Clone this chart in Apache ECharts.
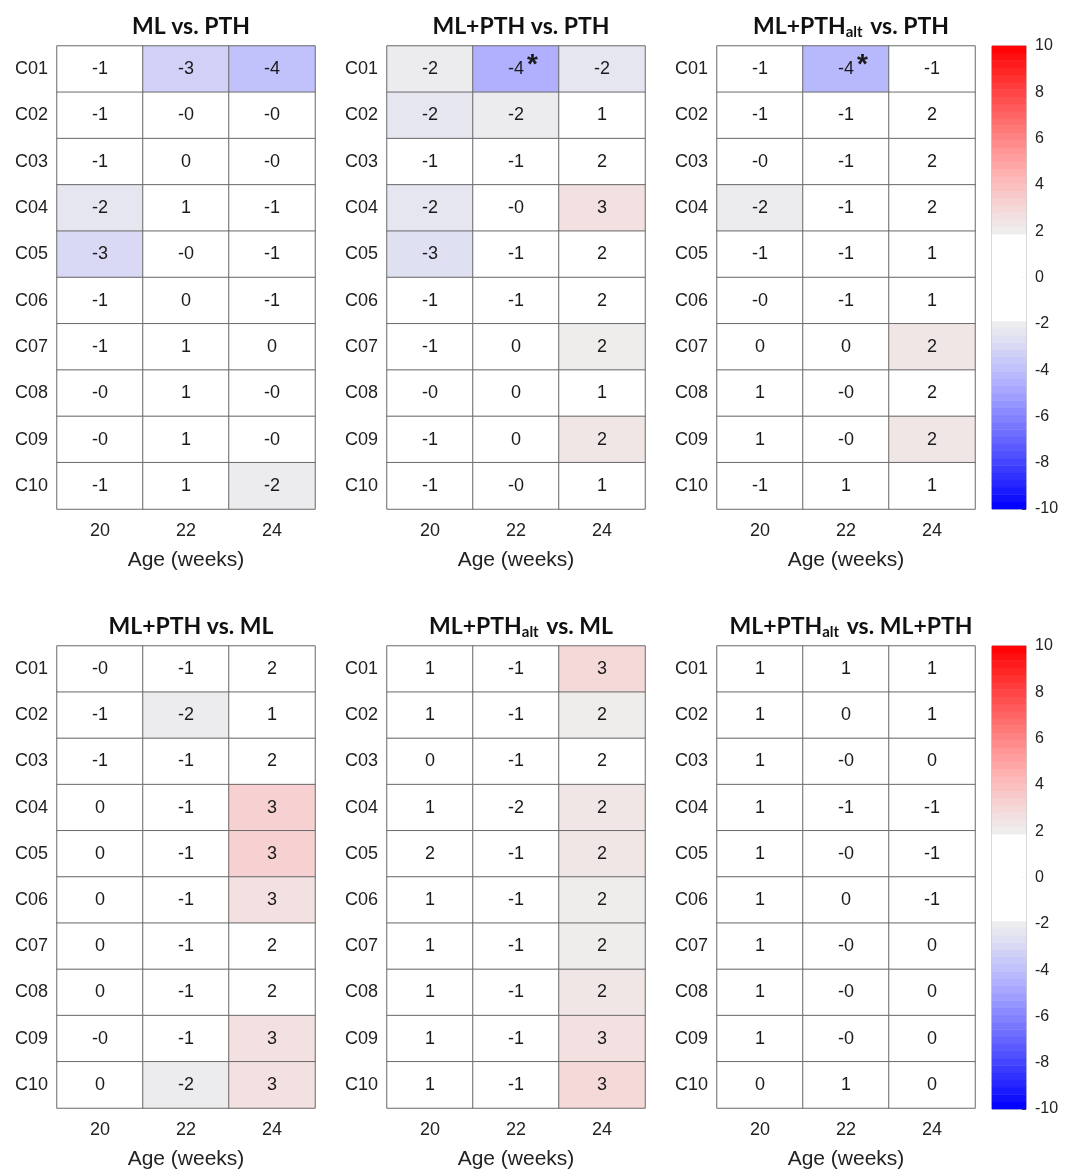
<!DOCTYPE html>
<html>
<head>
<meta charset="utf-8">
<script src="https://cdn.jsdelivr.net/npm/echarts@6/dist/echarts.min.js"></script>
<style>
html,body{margin:0;padding:0;background:#fff;}
#chart{width:1073px;height:1171px;}
</style>
</head>
<body>
<div id="chart"></div>
<script>
// ---------- data ----------
const ages = ['20', '22', '24'];
const clusters = ['C01','C02','C03','C04','C05','C06','C07','C08','C09','C10'];
const colorbarTicks = [-10, -8, -6, -4, -2, 0, 2, 4, 6, 8, 10];

// rows = clusters C01..C10, columns = ages 20, 22, 24
const mlVsPth = [
  [-1.0, -3.3, -3.9],
  [-0.8, -0.3, -0.2],
  [-0.7,  0.2, -0.3],
  [-2.4,  0.8, -0.6],
  [-3.1, -0.3, -0.7],
  [-0.9,  0.3, -0.7],
  [-0.8,  0.7,  0.2],
  [-0.4,  0.6, -0.2],
  [-0.3,  0.8, -0.4],
  [-0.8,  0.7, -2.0]
];
const mlPthVsPth = [
  [-2.0, -4.45, -2.2],
  [-2.2, -1.9,  1.0],
  [-0.8, -0.9,  1.6],
  [-2.4, -0.3,  2.7],
  [-2.8, -0.8,  1.7],
  [-0.9, -0.8,  1.6],
  [-0.8,  0.3,  2.0],
  [-0.3,  0.2,  1.0],
  [-0.8,  0.3,  2.2],
  [-0.8, -0.2,  1.1]
];
const mlPthAltVsPth = [
  [-1.0, -4.35, -0.8],
  [-0.9, -0.8,  1.6],
  [-0.3, -0.9,  1.7],
  [-2.0, -0.8,  1.6],
  [-0.9, -0.8,  1.0],
  [-0.3, -0.8,  0.9],
  [ 0.3,  0.2,  2.2],
  [ 0.7, -0.3,  1.7],
  [ 0.8, -0.3,  2.2],
  [-0.7,  0.6,  1.0]
];
const mlPthVsMl = [
  [-0.3, -0.8,  1.6],
  [-0.8, -2.0,  1.0],
  [-0.8, -0.9,  1.7],
  [ 0.3, -0.8,  3.4],
  [ 0.3, -0.9,  3.2],
  [ 0.2, -0.8,  2.8],
  [ 0.3, -0.8,  1.7],
  [ 0.3, -0.9,  1.7],
  [-0.2, -0.8,  2.6],
  [ 0.2, -2.0,  2.7]
];
const mlPthAltVsMl = [
  [ 0.8, -0.8,  2.9],
  [ 0.8, -0.8,  2.0],
  [ 0.3, -0.9,  1.7],
  [ 0.8, -1.6,  2.3],
  [ 1.6, -0.9,  2.3],
  [ 0.8, -0.8,  2.0],
  [ 0.8, -0.8,  2.0],
  [ 0.8, -0.9,  2.4],
  [ 0.8, -0.9,  2.8],
  [ 0.8, -0.8,  3.1]
];
const mlPthAltVsMlPth = [
  [ 0.8,  0.7,  0.8],
  [ 0.8,  0.3,  0.7],
  [ 0.8, -0.3,  0.2],
  [ 0.8, -0.7, -0.8],
  [ 0.8, -0.3, -0.7],
  [ 0.8,  0.2, -0.8],
  [ 0.8, -0.2,  0.3],
  [ 0.8, -0.3,  0.2],
  [ 0.8, -0.3,  0.3],
  [ 0.3,  0.6,  0.3]
];
// significance marks [row, col]
const sigMlPthVsPth = [[0, 1]];
const sigMlPthAltVsPth = [[0, 1]];
const sigNone = [];

const panels = [
  {title: '{b|ML vs. PTH}', values: mlVsPth, sig: sigNone},
  {title: '{b|ML+PTH vs. PTH}', values: mlPthVsPth, sig: sigMlPthVsPth},
  {title: '{b|ML+PTH}{sub|alt}{b| vs. PTH}', values: mlPthAltVsPth, sig: sigMlPthAltVsPth},
  {title: '{b|ML+PTH vs. ML}', values: mlPthVsMl, sig: sigNone},
  {title: '{b|ML+PTH}{sub|alt}{b| vs. ML}', values: mlPthAltVsMl, sig: sigNone},
  {title: '{b|ML+PTH}{sub|alt}{b| vs. ML+PTH}', values: mlPthAltVsMlPth, sig: sigNone}
];

// ---------- colormap (style) ----------
const NB = 64, VMIN = -10, VMAX = 10, STEP = (VMAX - VMIN) / NB;
function cmap(v) {
  const a = Math.abs(v);
  if (a < 1.75) return '#ffffff';
  const t = Math.max(0, Math.min(1, (a - 1.875) / (10 - 1.875)));
  const g = Math.round(238 * (1 - Math.pow(t, 1.2)));
  const hi = Math.round(238 + 17 * Math.min(1, t * 3));
  return v > 0 ? `rgb(${hi},${g},${g})` : `rgb(${g},${g},${hi})`;
}
const pieces = [];
for (let i = 0; i < NB; i++) {
  const lo = VMIN + i * STEP, hi = lo + STEP;
  const p = {gte: lo, color: cmap(lo + STEP / 2)};
  if (i === NB - 1) p.lte = hi; else p.lt = hi;
  pieces.push(p);
}
const binCats = [], binData = [];
for (let i = 0; i < NB; i++) {
  binCats.push(String(i));
  binData.push([0, i, VMIN + (i + 0.5) * STEP]);
}

// ---------- layout ----------
const FONT = '"Liberation Sans", Arial, sans-serif';
const TFONT = 'Lato, "Open Sans", sans-serif';
const gridLefts = [57, 387, 717];
const gridTops = [46, 646];
const GW = 258, GH = 463;

const grids = [], xAxes = [], yAxes = [], series = [], titles = [];
panels.forEach((p, k) => {
  const col = k % 3, row = Math.floor(k / 3);
  grids.push({left: gridLefts[col], top: gridTops[row], width: GW, height: GH});
  xAxes.push({
    type: 'category', gridIndex: k, data: ages, position: 'bottom',
    axisLine: {show: false}, axisTick: {show: false}, splitLine: {show: false},
    axisLabel: {fontFamily: FONT, fontSize: 18, color: '#222', margin: 13},
    name: 'Age (weeks)', nameLocation: 'middle', nameGap: 41,
    nameTextStyle: {fontFamily: FONT, fontSize: 21, color: '#222'}
  });
  yAxes.push({
    type: 'category', gridIndex: k, data: clusters, inverse: true,
    axisLine: {show: false}, axisTick: {show: false}, splitLine: {show: false},
    axisLabel: {fontFamily: FONT, fontSize: 18, color: '#222', margin: 9}
  });
  const sigSet = new Set(p.sig.map(s => s[0] + '_' + s[1]));
  const data = [];
  p.values.forEach((rowVals, r) => rowVals.forEach((v, c) => {
    data.push([c, r, v, sigSet.has(r + '_' + c) ? 1 : 0]);
  }));
  series.push({
    type: 'heatmap', xAxisIndex: k, yAxisIndex: k, data: data,
    itemStyle: {borderColor: '#6a6a6a', borderWidth: 1},
    emphasis: {disabled: true},
    label: {
      show: true,
      formatter: (prm) => {
        const txt = prm.value[2].toFixed(0);
        return prm.value[3] ? '{p|}{v|' + txt + '}{s|*}' : '{v|' + txt + '}';
      },
      rich: {
        v: {fontFamily: FONT, fontSize: 18, color: '#1a1a1a'},
        p: {width: 14},
        s: {fontFamily: FONT, fontSize: 28, fontWeight: 'bold', color: '#1a1a1a', padding: [0, 0, 8, 3]}
      }
    }
  });
  titles.push({
    text: p.title,
    left: gridLefts[col] + GW / 2, top: gridTops[row] - 38, textAlign: 'center',
    textStyle: {
      rich: {
        b: {fontFamily: TFONT, fontWeight: 'bold', fontSize: 23, color: '#111', lineHeight: 27},
        sub: {fontFamily: TFONT, fontWeight: 'bold', fontSize: 15, color: '#111', lineHeight: 14, verticalAlign: 'bottom', padding: [0, 2, 0, 0]}
      }
    }
  });
});

// colorbars
gridTops.forEach((top) => {
  const gi = grids.length;
  grids.push({left: 992, top: top, width: 34, height: GH, show: true, borderColor: '#999', borderWidth: 1, backgroundColor: 'transparent'});
  xAxes.push({type: 'category', gridIndex: gi, data: ['cb'], show: false});
  const yCat = yAxes.length;
  yAxes.push({type: 'category', gridIndex: gi, data: binCats, show: false});
  yAxes.push({
    type: 'value', gridIndex: gi, position: 'right', min: VMIN, max: VMAX, interval: 2,
    axisLine: {show: false}, splitLine: {show: false},
    axisTick: {show: true, inside: true, length: 4, lineStyle: {color: '#444'}},
    axisLabel: {fontFamily: FONT, fontSize: 16, color: '#222', margin: 9,
      formatter: (v) => colorbarTicks.includes(v) ? String(v) : ''}
  });
  series.push({
    type: 'heatmap', xAxisIndex: gi, yAxisIndex: yCat, data: binData,
    itemStyle: {borderWidth: 0}, emphasis: {disabled: true}, silent: true
  });
});

const chart = echarts.init(document.getElementById('chart'), null, {renderer: 'canvas'});
chart.setOption({
  backgroundColor: '#ffffff',
  animation: false,
  title: titles,
  grid: grids,
  xAxis: xAxes,
  yAxis: yAxes,
  visualMap: {
    type: 'piecewise', show: false, dimension: 2,
    seriesIndex: series.map((s, i) => i),
    pieces: pieces
  },
  series: series
});
</script>
</body>
</html>
